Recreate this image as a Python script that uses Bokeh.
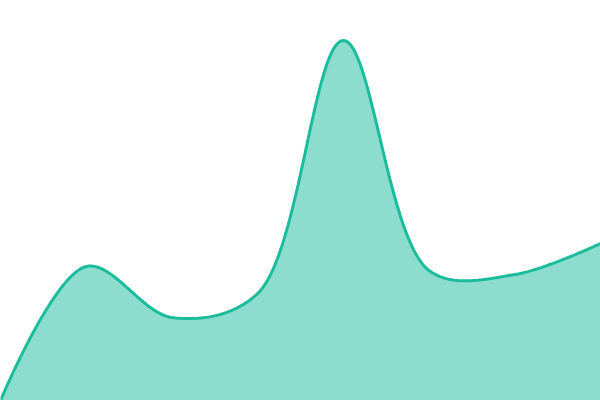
import numpy as np
from bokeh.plotting import figure
from bokeh.embed import file_html
from bokeh.resources import INLINE

# Data (8 evenly spaced points)
x_idx = [0, 1, 2, 3, 4, 5, 6, 7]
values = [0, 134, 83, 107, 360, 130, 126, 157]

LINE_COLOR = "#1ABC9C"

W, H = 600, 400
X_RANGE = (0, 7)
Y_RANGE = (0, 400)


def catmull_rom_centripetal(px, py, alpha=0.5, steps=60):
    """Catmull-Rom (centripetal) through points given in screen units,
    following d3.curveCatmullRom. Returns sampled screen coordinates."""
    pts = list(zip(px, py))
    n = len(pts)
    outx, outy = [pts[0][0]], [pts[0][1]]

    def dist_a(a, b):
        d2 = (a[0] - b[0]) ** 2 + (a[1] - b[1]) ** 2
        return d2 ** (alpha / 2), d2 ** alpha

    for i in range(n - 1):
        p1, p2 = pts[i], pts[i + 1]
        p0 = pts[i - 1] if i > 0 else None
        p3 = pts[i + 2] if i + 2 < n else None
        l12_a, l12_2a = dist_a(p1, p2)
        c1 = p1
        c2 = p2
        if p0 is not None:
            l01_a, l01_2a = dist_a(p0, p1)
            if l01_a > 1e-12:
                a = 2 * l01_2a + 3 * l01_a * l12_a + l12_2a
                m = 3 * l01_a * (l01_a + l12_a)
                c1 = ((p1[0] * a - p0[0] * l12_2a + p2[0] * l01_2a) / m,
                      (p1[1] * a - p0[1] * l12_2a + p2[1] * l01_2a) / m)
        if p3 is not None:
            l23_a, l23_2a = dist_a(p2, p3)
            if l23_a > 1e-12:
                b = 2 * l23_2a + 3 * l23_a * l12_a + l12_2a
                m = 3 * l23_a * (l23_a + l12_a)
                c2 = ((p2[0] * b + p1[0] * l23_2a - p3[0] * l12_2a) / m,
                      (p2[1] * b + p1[1] * l23_2a - p3[1] * l12_2a) / m)
        t = np.linspace(0, 1, steps)[1:]
        mt = 1 - t
        bx = mt**3 * p1[0] + 3 * mt**2 * t * c1[0] + 3 * mt * t**2 * c2[0] + t**3 * p2[0]
        by = mt**3 * p1[1] + 3 * mt**2 * t * c1[1] + 3 * mt * t**2 * c2[1] + t**3 * p2[1]
        outx.extend(bx)
        outy.extend(by)
    return np.array(outx), np.array(outy)


p = figure(width=W, height=H, output_backend="svg", toolbar_location=None,
           x_range=X_RANGE, y_range=Y_RANGE, min_border=0)
p.axis.visible = False
p.grid.visible = False
p.outline_line_color = None
p.background_fill_color = "white"
p.border_fill_color = "white"

# screen-unit scale factors from the figure's own ranges
kx = W / (X_RANGE[1] - X_RANGE[0])
ky = H / (Y_RANGE[1] - Y_RANGE[0])
sx_px, sy_px = catmull_rom_centripetal(np.array(x_idx) * kx, np.array(values) * ky)
cx, cy = sx_px / kx, sy_px / ky

p.varea(x=cx, y1=np.full_like(cy, -20), y2=cy, fill_color=LINE_COLOR, fill_alpha=0.5)
p.line(cx, cy, line_color=LINE_COLOR, line_width=3)

open("out.html", "w").write(file_html(p, INLINE))
